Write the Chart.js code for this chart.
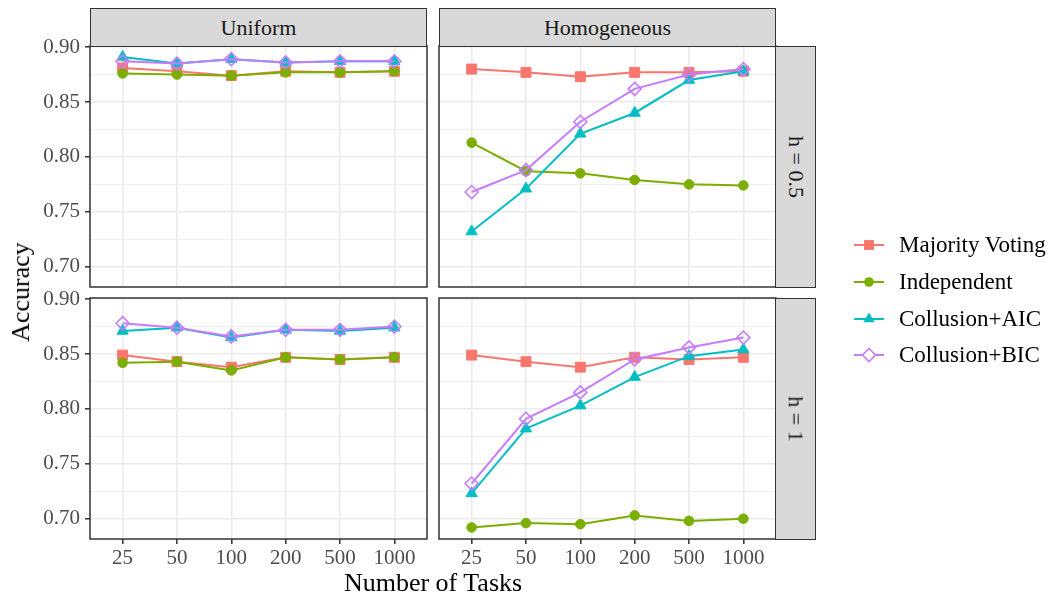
<!DOCTYPE html>
<html>
<head>
<meta charset="utf-8">
<title>Accuracy by number of tasks</title>
<script src="https://cdn.jsdelivr.net/npm/chart.js@4.4.1/dist/chart.umd.min.js"></script>
<style>
  body { margin: 0; width: 1052px; height: 594px; position: relative; overflow: hidden; background: #fff;
         font-family: "Liberation Serif", "Times New Roman", serif; }
  canvas.panel { position: absolute; left: 0; top: 0; }
  .strip { position: absolute; box-sizing: border-box; background: #D9D9D9; border: 1.5px solid #333;
           color: #1A1A1A; font-size: 22px; display: flex; align-items: center; justify-content: center; }
  .strip span.rot { transform: rotate(90deg); white-space: nowrap; }
  .title { position: absolute; color: #000; font-size: 26px; white-space: nowrap; }
  #legend { position: absolute; left: 852px; top: 227px; }
  .item { display: flex; align-items: center; height: 36.7px; font-size: 23px; color: #000; }
  .item canvas { margin-right: 13px; }
</style>
</head>
<body>
<canvas id="tl" class="panel" width="1052" height="594"></canvas>
<canvas id="tr" class="panel" width="1052" height="594"></canvas>
<canvas id="bl" class="panel" width="1052" height="594"></canvas>
<canvas id="br" class="panel" width="1052" height="594"></canvas>

<div class="strip" style="left:90px;top:8px;width:337px;height:39px">Uniform</div>
<div class="strip" style="left:439px;top:8px;width:337px;height:39px">Homogeneous</div>
<div class="strip" style="left:775px;top:46px;width:41px;height:242px"><span class="rot">h = 0.5</span></div>
<div class="strip" style="left:775px;top:298px;width:41px;height:242px"><span class="rot">h = 1</span></div>

<div class="title" style="left:433px;top:568px;transform:translateX(-50%)">Number of Tasks</div>
<div class="title" style="left:21px;top:292px;transform:translate(-50%,-50%) rotate(-90deg)">Accuracy</div>

<div id="legend"></div>

<script>
// Categories and tick labels
const tasks = ['25', '50', '100', '200', '500', '1000'];
const methods = ['Majority Voting', 'Independent', 'Collusion+AIC', 'Collusion+BIC'];
const yTicks = [0.70, 0.75, 0.80, 0.85, 0.90];
const yTickLabels = ['0.70', '0.75', '0.80', '0.85', '0.90'];

// Uniform, h = 0.5
const mvUniH05  = [0.881, 0.878, 0.874, 0.878, 0.877, 0.878];
const indUniH05 = [0.876, 0.875, 0.874, 0.877, 0.877, 0.878];
const aicUniH05 = [0.891, 0.885, 0.889, 0.886, 0.887, 0.887];
const bicUniH05 = [0.887, 0.885, 0.889, 0.886, 0.887, 0.887];

// Homogeneous, h = 0.5
const mvHomH05  = [0.880, 0.877, 0.873, 0.877, 0.877, 0.878];
const indHomH05 = [0.813, 0.787, 0.785, 0.779, 0.775, 0.774];
const aicHomH05 = [0.732, 0.771, 0.821, 0.840, 0.870, 0.878];
const bicHomH05 = [0.768, 0.788, 0.832, 0.862, 0.875, 0.880];

// Uniform, h = 1
const mvUniH1  = [0.849, 0.843, 0.838, 0.847, 0.845, 0.847];
const indUniH1 = [0.842, 0.843, 0.835, 0.847, 0.845, 0.847];
const aicUniH1 = [0.871, 0.874, 0.865, 0.872, 0.871, 0.874];
const bicUniH1 = [0.878, 0.874, 0.866, 0.872, 0.872, 0.875];

// Homogeneous, h = 1
const mvHomH1  = [0.849, 0.843, 0.838, 0.847, 0.845, 0.847];
const indHomH1 = [0.692, 0.696, 0.695, 0.703, 0.698, 0.700];
const aicHomH1 = [0.723, 0.782, 0.803, 0.829, 0.848, 0.854];
const bicHomH1 = [0.732, 0.791, 0.815, 0.845, 0.856, 0.865];

// Styles (ggplot default hues)
const colors = ['#F8766D', '#7CAE00', '#00BFC4', '#C77CFF'];
const shapes = ['rect', 'circle', 'triangle', 'rectRot'];
const radii = [7, 4.8, 6.5, 6.5];
const hollow = [false, false, false, true];

// Page layout of the panels
const W = 1052, H = 594;
const colLeft = [90, 439], rowTop = [46, 298];
const panelW = 337, panelH = 241;
const yAxisW = 70, xAxisH = 30;
const yMin = 0.6815, yMax = 0.901;

Chart.defaults.font.family = '"Liberation Serif", "Times New Roman", serif';
Chart.defaults.font.size = 21;
Chart.defaults.color = '#4D4D4D';

function isMajor(v) {
    return yTicks.some(t => Math.abs(t - v) < 1e-6);
}

// Draws the dark frame round each panel
const panelBorder = {
    id: 'panelBorder',
    afterDatasetsDraw(chart) {
        const a = chart.chartArea;
        const ctx = chart.ctx;
        ctx.save();
        ctx.strokeStyle = '#333333';
        ctx.lineWidth = 1.5;
        ctx.strokeRect(a.left, a.top, a.right - a.left, a.bottom - a.top);
        ctx.restore();
    }
};

function makePanel(canvasId, series, col, row) {
    const left = colLeft[col], top = rowTop[row];
    const showY = col === 0, showX = row === 1;

    const datasets = methods.map((name, i) => ({
        label: name,
        data: series[i].map((v, j) => ({ x: j, y: v })),
        borderColor: colors[i],
        backgroundColor: hollow[i] ? 'rgba(255,255,255,0)' : colors[i],
        borderWidth: 2,
        pointStyle: shapes[i],
        pointRadius: radii[i],
        pointBorderWidth: hollow[i] ? 1.6 : 1,
        tension: 0,
        order: 3 - i
    }));

    new Chart(document.getElementById(canvasId), {
        type: 'line',
        data: { datasets: datasets },
        options: {
            responsive: false,
            animation: false,
            devicePixelRatio: 1,
            events: [],
            layout: {
                padding: {
                    left: left - (showY ? yAxisW : 0),
                    top: top,
                    right: W - left - panelW,
                    bottom: H - top - panelH - (showX ? xAxisH : 0)
                }
            },
            plugins: {
                legend: { display: false },
                tooltip: { enabled: false }
            },
            scales: {
                x: {
                    type: 'linear',
                    min: -0.6,
                    max: 5.6,
                    afterBuildTicks: axis => { axis.ticks = tasks.map((t, i) => ({ value: i })); },
                    afterFit: axis => { axis.height = showX ? xAxisH : 0; },
                    border: { display: false },
                    grid: {
                        color: '#EBEBEB',
                        lineWidth: 1.6,
                        drawTicks: showX,
                        tickLength: 5,
                        tickColor: '#333333',
                        tickWidth: 1.5
                    },
                    ticks: {
                        display: showX,
                        autoSkip: false,
                        maxRotation: 0,
                        padding: 2,
                        callback: v => tasks[v]
                    }
                },
                y: {
                    type: 'linear',
                    min: yMin,
                    max: yMax,
                    afterBuildTicks: axis => {
                        const ticks = [];
                        yTicks.forEach((t, i) => {
                            ticks.push({ value: t });
                            if (i < yTicks.length - 1) ticks.push({ value: (t + yTicks[i + 1]) / 2 });
                        });
                        axis.ticks = ticks;
                    },
                    afterFit: axis => { axis.width = showY ? yAxisW : 0; },
                    border: { display: false },
                    grid: {
                        color: '#EBEBEB',
                        lineWidth: c => (c.tick && isMajor(c.tick.value)) ? 1.6 : 0.8,
                        drawTicks: showY,
                        tickLength: 5,
                        tickColor: c => (c.tick && isMajor(c.tick.value)) ? '#333333' : 'rgba(0,0,0,0)',
                        tickWidth: 1.5
                    },
                    ticks: {
                        display: showY,
                        autoSkip: false,
                        padding: 5,
                        callback: v => {
                            const k = yTicks.findIndex(t => Math.abs(t - v) < 1e-6);
                            return k >= 0 ? yTickLabels[k] : '';
                        }
                    }
                }
            }
        },
        plugins: [panelBorder]
    });
}

makePanel('tl', [mvUniH05, indUniH05, aicUniH05, bicUniH05], 0, 0);
makePanel('tr', [mvHomH05, indHomH05, aicHomH05, bicHomH05], 1, 0);
makePanel('bl', [mvUniH1, indUniH1, aicUniH1, bicUniH1], 0, 1);
makePanel('br', [mvHomH1, indHomH1, aicHomH1, bicHomH1], 1, 1);

// Legend keys: a short line with the marker on it
function drawKey(ctx, i) {
    const cx = 17, cy = 10, r = radii[i];
    ctx.strokeStyle = colors[i];
    ctx.fillStyle = colors[i];
    ctx.lineWidth = 2;
    ctx.beginPath();
    ctx.moveTo(2, cy);
    ctx.lineTo(32, cy);
    ctx.stroke();
    ctx.beginPath();
    if (shapes[i] === 'rect') {
        const s = r * Math.SQRT1_2;
        ctx.rect(cx - s, cy - s, 2 * s, 2 * s);
    } else if (shapes[i] === 'circle') {
        ctx.arc(cx, cy, r, 0, Math.PI * 2);
    } else if (shapes[i] === 'triangle') {
        ctx.moveTo(cx, cy - r);
        ctx.lineTo(cx + r * Math.cos(Math.PI / 6), cy + r / 2);
        ctx.lineTo(cx - r * Math.cos(Math.PI / 6), cy + r / 2);
        ctx.closePath();
    } else {
        ctx.moveTo(cx, cy - r);
        ctx.lineTo(cx + r, cy);
        ctx.lineTo(cx, cy + r);
        ctx.lineTo(cx - r, cy);
        ctx.closePath();
    }
    if (hollow[i]) {
        ctx.fillStyle = '#fff';
        ctx.fill();
        ctx.lineWidth = 1.6;
        ctx.stroke();
    } else {
        ctx.fill();
    }
}

const legend = document.getElementById('legend');
methods.forEach((name, i) => {
    const row = document.createElement('div');
    row.className = 'item';
    const key = document.createElement('canvas');
    key.width = 34;
    key.height = 20;
    drawKey(key.getContext('2d'), i);
    row.appendChild(key);
    row.appendChild(document.createTextNode(name));
    legend.appendChild(row);
});
</script>
</body>
</html>
